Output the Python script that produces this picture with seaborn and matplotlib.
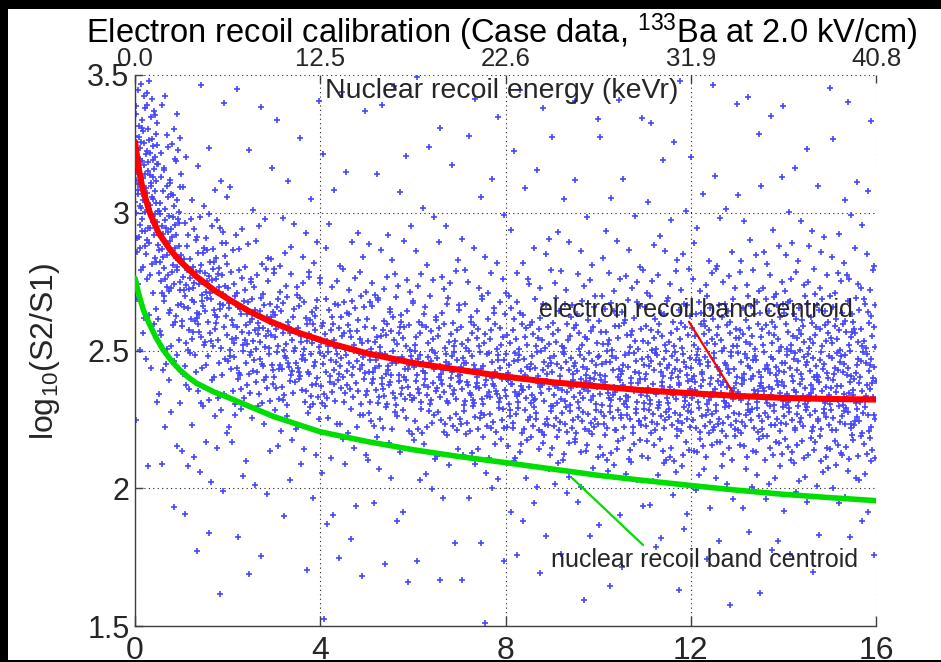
import numpy as np
import pandas as pd
import matplotlib
matplotlib.use("Agg")
import matplotlib.pyplot as plt
from matplotlib.patches import Rectangle
import seaborn as sns

sns.set_style("white")
plt.rcParams['font.family'] = ['Liberation Sans', 'DejaVu Sans']
plt.rcParams['mathtext.fontset'] = 'custom'
plt.rcParams['mathtext.rm'] = 'Liberation Sans'
plt.rcParams['mathtext.it'] = 'Liberation Sans'
plt.rcParams['mathtext.bf'] = 'Liberation Sans'

# ---------------- data ----------------
bottom_ticks = [0, 4, 8, 12, 16]
top_tick_labels = ['0.0', '12.5', '22.6', '31.9', '40.8']
y_ticks = [1.5, 2.0, 2.5, 3.0, 3.5]
y_tick_labels = ['1.5', '2', '2.5', '3', '3.5']

# electron recoil band centroid (red)
er_x = [0, 0.08, 0.16, 0.32, 0.5, 0.76, 1.0, 1.33, 1.7, 2.05, 2.48, 2.9, 3.5, 4.3,
        5, 6, 7, 8, 9, 10, 11, 12, 13, 14, 15, 16]
er_y = [3.258, 3.16, 3.09, 3.0, 2.93, 2.865, 2.82, 2.768, 2.72, 2.683, 2.641, 2.607,
        2.566, 2.522, 2.49, 2.455, 2.43, 2.405, 2.385, 2.37, 2.355, 2.345, 2.335,
        2.328, 2.324, 2.322]

# nuclear recoil band centroid (green)
nr_x = [0, 0.08, 0.18, 0.3, 0.45, 0.61, 0.8, 0.97, 1.15, 1.33, 1.7, 2.05, 2.5, 3, 4,
        5, 6, 7, 8, 9, 10, 11, 12, 13, 14, 15, 16]
nr_y = [2.762, 2.705, 2.647, 2.600, 2.548, 2.502, 2.46, 2.429, 2.403, 2.381, 2.35,
        2.327, 2.295, 2.26, 2.205, 2.17, 2.14, 2.115, 2.093, 2.07, 2.047, 2.028, 2.01,
        1.993, 1.978, 1.966, 1.955]

# event counts, per cell:
# columns = energy bins (edges below), rows = log10(S2/S1) bins from 3.5 down to 1.5 (step 0.1)
x_edges = [0, 0.5, 1, 2, 3, 4, 5, 6, 7, 8, 9, 10, 11, 12, 13, 14, 15, 16]
y_edges = [3.5, 3.4, 3.3, 3.2, 3.1, 3.0, 2.9, 2.8, 2.7, 2.6, 2.5, 2.4, 2.3, 2.2, 2.1,
           2.0, 1.9, 1.8, 1.7, 1.6, 1.5]
counts = [
    [6, 12, 16, 18, 18, 15, 10, 6, 4, 3, 2, 1, 1, 0, 1, 0, 0, 0, 0, 0],
    [1, 3, 6, 9, 12, 14, 15, 13, 9, 6, 4, 3, 2, 1, 1, 1, 0, 0, 0, 0],
    [1, 1, 2, 2, 5, 12, 20, 25, 25, 20, 12, 8, 5, 4, 3, 2, 1, 1, 1, 0],
    [1, 1, 1, 1, 2, 4, 8, 15, 22, 25, 22, 14, 6, 3, 2, 1, 1, 1, 1, 0],
    [1, 1, 1, 1, 1, 3, 6, 10, 18, 24, 26, 18, 8, 4, 2, 1, 1, 1, 0, 0],
    [1, 1, 1, 1, 1, 2, 4, 8, 15, 22, 25, 20, 9, 4, 2, 2, 2, 1, 1, 1],
    [1, 1, 1, 1, 1, 2, 4, 8, 14, 20, 26, 24, 12, 5, 2, 2, 1, 1, 1, 0],
    [1, 1, 1, 1, 1, 2, 4, 7, 12, 18, 26, 26, 16, 6, 3, 2, 1, 1, 1, 0],
    [1, 1, 1, 1, 1, 2, 3, 6, 12, 18, 25, 28, 20, 8, 3, 2, 1, 1, 1, 1],
    [1, 1, 1, 1, 1, 2, 3, 6, 11, 18, 25, 28, 22, 10, 4, 2, 2, 1, 1, 0],
    [1, 1, 1, 1, 1, 2, 3, 6, 11, 18, 25, 28, 24, 12, 5, 2, 1, 1, 0, 1],
    [1, 1, 1, 1, 1, 2, 4, 7, 12, 18, 25, 28, 25, 13, 5, 2, 1, 1, 1, 0],
    [1, 1, 1, 1, 2, 2, 4, 7, 12, 19, 26, 28, 25, 14, 5, 3, 2, 1, 1, 0],
    [1, 1, 1, 1, 2, 2, 4, 8, 13, 20, 26, 28, 25, 14, 6, 3, 1, 1, 0, 1],
    [1, 1, 1, 1, 2, 3, 5, 8, 14, 20, 26, 28, 25, 15, 6, 3, 2, 1, 1, 0],
    [1, 1, 1, 1, 2, 3, 5, 9, 15, 22, 27, 28, 25, 15, 6, 3, 1, 1, 1, 0],
    [1, 1, 1, 1, 2, 3, 5, 9, 15, 22, 27, 28, 26, 16, 7, 3, 2, 1, 0, 0],
]

# ---------------- spread the counted events evenly inside their cells ----------------
def halton(i, b):
    f, r = 1.0, 0.0
    while i > 0:
        f /= b
        r += f * (i % b)
        i //= b
    return r

px, py = [], []
k = 1
for ci, col in enumerate(counts):
    x0, x1 = x_edges[ci], x_edges[ci + 1]
    for ri, n in enumerate(col):
        y0, y1 = y_edges[ri + 1], y_edges[ri]
        for _ in range(n):
            px.append(x0 + (x1 - x0) * halton(k, 2))
            py.append(y0 + (y1 - y0) * halton(k, 3))
            k += 1
events = pd.DataFrame({'E': px, 'logS2S1': py})

# ---------------- figure ----------------
W, H = 941, 662
fig = plt.figure(figsize=(W / 100, H / 100), dpi=100, facecolor='black')
fig.patches.append(Rectangle((8 / W, 2 / H), (W - 8) / W, 651 / H,
                             transform=fig.transFigure, facecolor='white',
                             edgecolor='none', zorder=-5))
ax = fig.add_axes([135 / W, 1 - 626 / H, 741 / W, 551 / H])
ax.set_facecolor('white')

sns.scatterplot(data=events, x='E', y='logS2S1', marker='+', s=13, linewidth=1.2,
                color='#4646ff', ax=ax, zorder=2, legend=False)
sns.lineplot(x=er_x, y=er_y, color='#ff0000', linewidth=4.4, ax=ax, zorder=3,
             sort=False, estimator=None)
sns.lineplot(x=nr_x, y=nr_y, color='#00dd00', linewidth=4.0, ax=ax, zorder=3,
             sort=False, estimator=None)

ax.set_xlim(0, 16)
ax.set_ylim(1.5, 3.5)
ax.set_xticks(bottom_ticks)
ax.set_xticklabels([str(t) for t in bottom_ticks])
ax.set_yticks(y_ticks)
ax.set_yticklabels(y_tick_labels)
ax.set_xlabel('')
ax.set_ylabel('')

ax.grid(True, linestyle=(0, (1, 3)), color='#222222', linewidth=0.8)
ax.set_axisbelow(True)
for s in ['top', 'right']:
    ax.spines[s].set_visible(False)
for s in ['left', 'bottom']:
    ax.spines[s].set_color('#404040')
    ax.spines[s].set_linewidth(1.0)
    ax.spines[s].set_visible(True)

ax.tick_params(axis='x', direction='in', length=7, width=1, color='#404040',
               labelsize=23, pad=7, bottom=True)
ax.tick_params(axis='y', direction='in', length=6, width=1, color='#404040',
               labelsize=22, pad=4, left=True)

secax = ax.secondary_xaxis('top')
secax.set_xticks(bottom_ticks)
secax.set_xticklabels(top_tick_labels)
secax.spines['top'].set_visible(False)
secax.tick_params(axis='x', direction='in', length=6, width=1, color='#404040',
                  labelsize=18.5, pad=3)

ax.text((502 - 135) / 741, 1 - (98 - 75) / 551, 'Nuclear recoil energy (keVr)',
        transform=ax.transAxes, ha='center', va='baseline', fontsize=20.5)

fig.text(502 / W, 1 - 43 / H,
         r'Electron recoil calibration (Case data, $^{133}$Ba at 2.0 kV/cm)',
         ha='center', va='baseline', fontsize=23.5, color='black')
fig.text(45 / W, 1 - 351 / H, r'log$_{10}$(S2/S1)', rotation=90,
         ha='center', va='center', fontsize=23)

# annotations
ax.plot([11.96, 12.99], [2.6045, 2.3265], color='#ff0000', linewidth=1.6, zorder=4)
ax.plot([9.44, 10.97], [2.037, 1.794], color='#00dd00', linewidth=1.6, zorder=4)
ax.text(12.11, 2.622, 'electron recoil band centroid', ha='center', va='baseline',
        fontsize=18, zorder=5)
ax.text(12.29, 1.714, 'nuclear recoil band centroid', ha='center', va='baseline',
        fontsize=18, zorder=5)

fig.savefig('out.png', dpi=100, facecolor=fig.get_facecolor())
